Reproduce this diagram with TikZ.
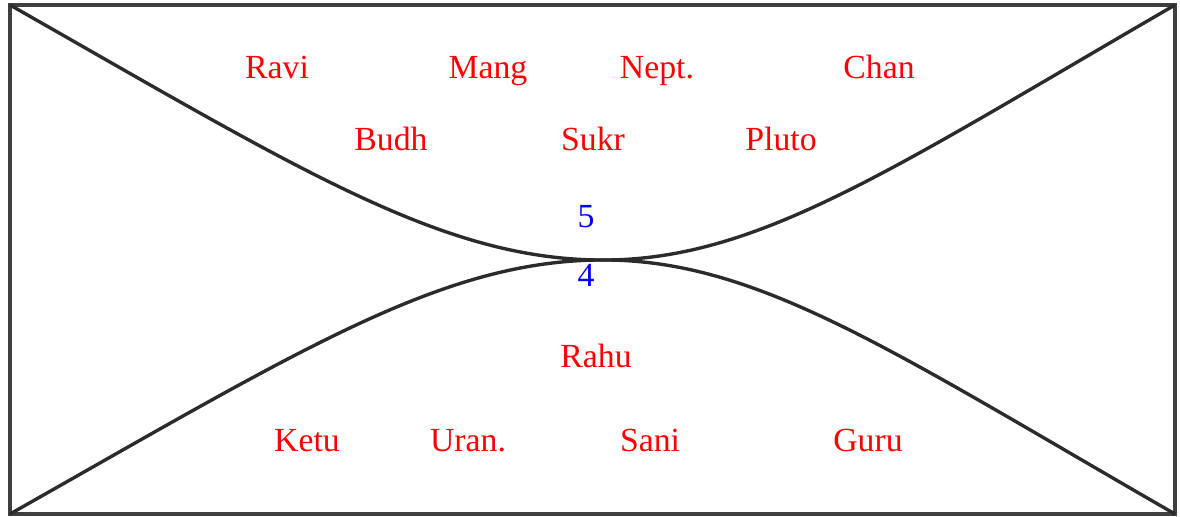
\documentclass[tikz,border=0pt]{standalone}
\usepackage{fontspec}
\setmainfont{Liberation Serif}
\usepackage{xcolor}
\definecolor{cLine}{HTML}{2B2B2B}
\definecolor{cFrame}{HTML}{3F3F3F}
\definecolor{cGraha}{HTML}{FF0000}
\definecolor{cHouse}{HTML}{0000FF}
\usepackage{tikz}
\usetikzlibrary{positioning}
\tikzset{
  chart-frame/.style={draw=cFrame,line width=3.5pt},
  chart-line/.style={draw=cLine,line width=2.4pt},
  node-graha/.style={text=cGraha,inner sep=0pt,anchor=base,font=\fontsize{24}{28}\selectfont},
  node-house/.style={text=cHouse,inner sep=0pt,anchor=base,font=\fontsize{24}{28}\selectfont},
}

\begin{document}
\begin{tikzpicture}[x=0.025cm,y=-0.025cm]
  \useasboundingbox (0,0) rectangle (1180,517);
  % corners and middle point
  \coordinate (tl) at (10,5);
  \coordinate (tr) at (1175,5);
  \coordinate (bl) at (10,514);
  \coordinate (br) at (1175,514);
  \coordinate (mid) at (598,260);
  \draw[chart-frame] (tl) rectangle (br);
  \draw[chart-line] (tl) .. controls (300,170) and (440,258) .. (mid)
    .. controls (756,262) and (890,170) .. (tr);
  \draw[chart-line] (bl) .. controls (300,350) and (440,262) .. (mid)
    .. controls (756,258) and (890,350) .. (br);
  % upper house
  \node[node-graha] (ravi) at (277,79) {Ravi};
  \node[node-graha] (mang) at (488,79) {Mang};
  \node[node-graha] (nept) at (657,79) {Nept.};
  \node[node-graha] (chan) at (879,79) {Chan};
  \node[node-graha] (budh) at (391,151) {Budh};
  \node[node-graha] (sukr) at (593,151) {Sukr};
  \node[node-graha] (pluto) at (781,151) {Pluto};
  \node[node-house] (h5) at (586,228) {5};
  % lower house
  \node[node-house] (h4) at (586,287) {4};
  \node[node-graha] (rahu) at (596,368) {Rahu};
  \node[node-graha] (ketu) at (307,452) {Ketu};
  \node[node-graha] (uran) at (468,452) {Uran.};
  \node[node-graha] (sani) at (650,452) {Sani};
  \node[node-graha] (guru) at (868,452) {Guru};
\end{tikzpicture}
\end{document}
